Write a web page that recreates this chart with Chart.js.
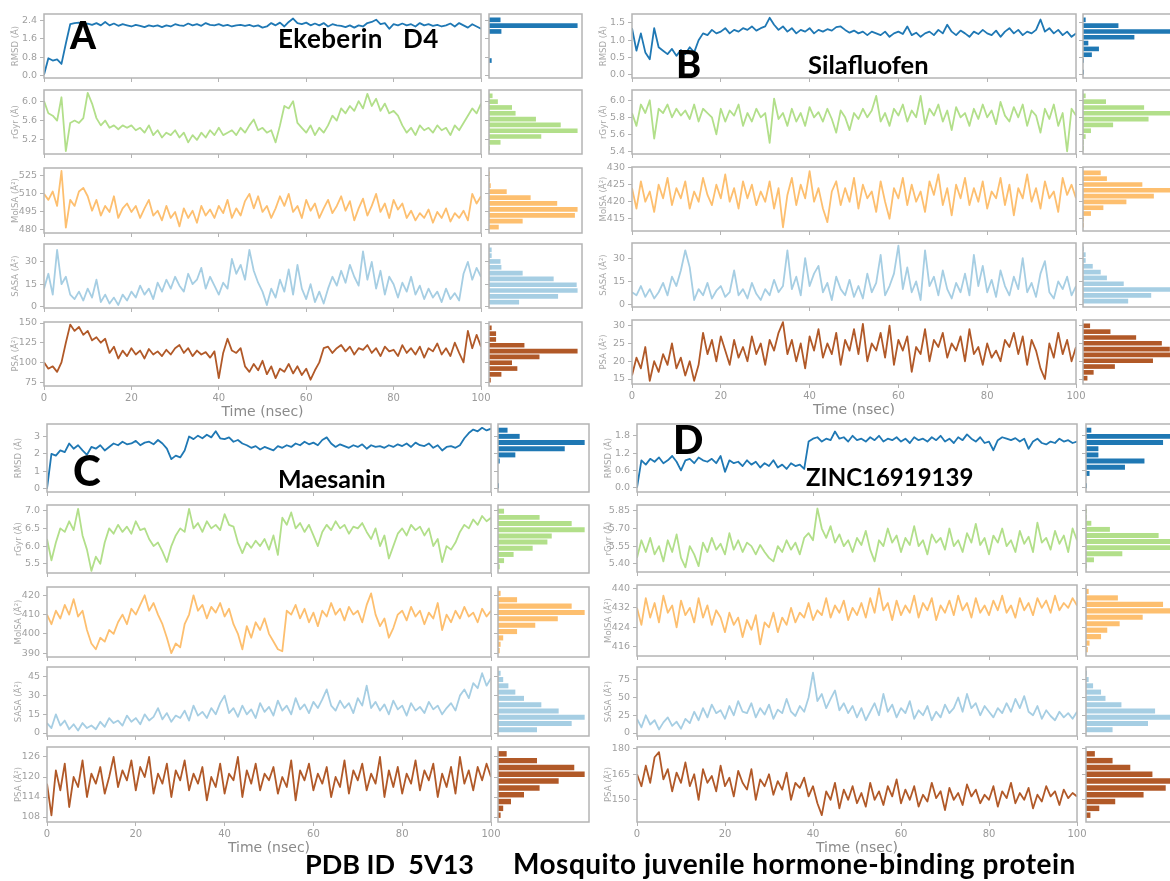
<!DOCTYPE html>
<html>
<head>
<meta charset="utf-8">
<script src="https://cdn.jsdelivr.net/npm/chart.js@4.4.1/dist/chart.umd.min.js"></script>
<style>
html, body { margin: 0; padding: 0; background: #fff; }
body { width: 1170px; height: 881px; overflow: hidden; position: relative; }
canvas { position: absolute; }
.lbl { position: absolute; font-family: 'Lato', 'Open Sans', sans-serif; font-weight: 700; color: #000; line-height: 1; white-space: pre; z-index: 5; }
.big { font-weight: 900; }
</style>
</head>
<body>
<div class="lbl big" style="left:70px;top:16px;font-size:37px">A</div>
<div class="lbl" style="left:278px;top:25px;font-size:26px;letter-spacing:0.4px">Ekeberin   D4</div>
<div class="lbl big" style="left:676px;top:44px;font-size:38px">B</div>
<div class="lbl" style="left:808px;top:52px;font-size:25.5px">Silafluofen</div>
<div class="lbl big" style="left:73px;top:449px;font-size:42px">C</div>
<div class="lbl" style="left:278px;top:466px;font-size:25px">Maesanin</div>
<div class="lbl big" style="left:673px;top:419px;font-size:40px">D</div>
<div class="lbl" style="left:806px;top:465px;font-size:24px">ZINC16919139</div>
<div class="lbl" style="left:305px;top:850px;font-size:27px">PDB ID  5V13</div>
<div class="lbl" style="left:513px;top:849px;font-size:28px;letter-spacing:0.5px">Mosquito juvenile hormone-binding protein</div>
<script>
Chart.defaults.font.family = 'DejaVu Sans';

const time = Array.from({ length: 101 }, (_, i) => i); // ns, one frame per ns

// ---------- A : Ekeberin D4 ----------
const aRmsd = [
  0.02, 0.75, 0.65, 0.7, 0.5, 1.4, 2.25, 2.3, 2.32, 2.25,
  2.28, 2.22, 2.3, 2.2, 2.35, 2.2, 2.28, 2.18, 2.25, 2.2,
  2.15, 2.22, 2.18, 2.12, 2.2, 2.15, 2.2, 2.12, 2.2, 2.15,
  2.25, 2.2, 2.18, 2.28, 2.2, 2.25, 2.18, 2.3, 2.22, 2.2,
  2.25, 2.18, 2.22, 2.15, 2.2, 2.22, 2.18, 2.22, 2.15, 2.2,
  2.1, 2.15, 2.3, 2.2, 2.32, 2.15, 2.35, 2.5, 2.3, 2.25,
  2.32, 2.2, 2.28, 2.2, 2.3, 2.15, 2.25, 2.2, 2.18, 2.12,
  2.2, 2.1, 2.2, 2.15, 2.3, 2.35, 2.45, 2.25, 2.3, 2.05,
  2.25, 2.2, 2.28, 2.2, 2.25, 2.15, 2.3, 2.2, 2.25, 2.18,
  2.22, 2.15, 2.2, 2.28, 2.15, 2.3, 2.2, 2.1, 2.25, 2.15,
  2.05];
const aRgyr = [
  6.0, 5.75, 5.7, 5.6, 6.08, 4.97, 5.55, 5.6, 5.55, 5.65,
  6.17, 5.95, 5.65, 5.5, 5.6, 5.45, 5.5, 5.42, 5.5, 5.45,
  5.5, 5.4, 5.45, 5.35, 5.5, 5.3, 5.4, 5.25, 5.35, 5.3,
  5.4, 5.25, 5.35, 5.15, 5.3, 5.2, 5.35, 5.25, 5.4, 5.3,
  5.45, 5.3, 5.35, 5.4, 5.3, 5.45, 5.35, 5.5, 5.62, 5.4,
  5.45, 5.35, 5.4, 5.15, 5.5, 5.9, 5.85, 6.0, 5.55, 5.45,
  5.35, 5.5, 5.3, 5.45, 5.35, 5.5, 5.7, 5.6, 5.85, 5.75,
  5.9, 5.8, 6.0, 5.85, 6.15, 5.9, 6.05, 5.8, 5.95, 5.75,
  5.8, 5.7, 5.5, 5.35, 5.45, 5.3, 5.5, 5.4, 5.45, 5.35,
  5.5, 5.4, 5.45, 5.3, 5.5, 5.4, 5.55, 5.7, 5.85, 5.75,
  5.95];
const aMolsa = [
  510, 505, 512, 500, 529, 482, 505, 500, 512, 515,
  508, 496, 505, 492, 500, 495, 508, 490, 498, 502,
  495, 500, 490, 498, 505, 492, 496, 488, 500, 490,
  495, 483, 498, 490, 496, 486, 500, 492, 497, 490,
  500, 494, 505, 490, 498, 492, 504, 510, 498, 508,
  495, 500, 490, 498, 508, 500, 510, 495, 500, 490,
  505, 496, 502, 490, 498, 505, 494, 500, 508, 496,
  504, 488, 498, 506, 492, 500, 510, 495, 502, 490,
  505, 497, 502, 490, 496, 488, 494, 490, 497, 486,
  495, 490, 498, 487, 494, 490, 496, 488, 510, 502,
  508];
const aSasa = [
  12, 22, 8, 38, 15, 20, 8, 5, 10, 4,
  12, 6, 18, 3, 8, 2, 6, 1, 8, 4,
  10, 6, 14, 8, 12, 5, 16, 10, 18, 12,
  20, 14, 10, 22, 15, 18, 26, 12, 20, 14,
  8, 16, 12, 32, 22, 28, 18, 38, 24, 16,
  10, 1, 12, 6, 18, 10, 25, 8, 28, 12,
  5, 15, 3, 10, 2, 12, 20, 14, 24, 16,
  28, 20, 14, 37, 18, 30, 12, 24, 8, 20,
  15, 6, 16, 10, 20, 8, 14, 5, 12, 6,
  10, 3, 12, 5, 9, 4, 22, 30, 18, 26,
  20];
const aPsa = [
  100, 92, 95, 88, 100, 125, 148, 140, 145, 135,
  140, 128, 132, 125, 130, 112, 120, 105, 115, 108,
  118, 110, 115, 105, 117, 110, 114, 108, 116, 110,
  118, 122, 112, 118, 108, 115, 110, 113, 106, 114,
  80, 112, 130, 115, 112, 118, 95, 88, 98, 90,
  102, 85, 95, 80, 92, 88, 98, 86, 95, 84,
  92, 78, 90, 100, 118, 120, 112, 118, 122, 114,
  120, 110, 118, 116, 122, 112, 118, 108, 120, 114,
  116, 108, 122, 112, 118, 110, 120, 106, 118, 114,
  124, 110, 118, 108, 125, 112, 100, 140, 118, 135,
  120];
const aRmsdHist = [0, 0, 3, 0, 0, 0, 0, 14, 100, 13];
const aRgyrHist = [1, 13, 59, 100, 81, 53, 30, 26, 10, 4];
const aMolsaHist = [11, 38, 97, 100, 77, 47, 20, 2, 1, 1];
const aSasaHist = [34, 78, 100, 99, 73, 38, 14, 13, 3, 3];
const aPsaHist = [2, 14, 32, 26, 57, 100, 40, 8, 8, 3];
const aRanges = [[-0.12, 2.70], [4.91, 6.23], [477.5, 531.5], [-1, 42], [70, 151.3]];
const aTicks = [['0.0', '0.8', '1.6', '2.4'], ['5.2', '5.6', '6.0'], ['480', '495', '510', '525'], ['0', '15', '30'], ['75', '100', '125', '150']];

// ---------- B : Silafluofen ----------
const bRmsd = [
  1.35, 0.7, 1.2, 0.65, 0.45, 1.35, 0.8, 0.7, 0.6, 0.75,
  0.55, 0.72, 0.6, 0.8, 0.65, 1.0, 1.2, 1.15, 1.3, 1.2,
  1.25, 1.35, 1.2, 1.3, 1.25, 1.35, 1.3, 1.4, 1.28, 1.35,
  1.4, 1.65, 1.45, 1.3, 1.4, 1.25, 1.35, 1.2, 1.3, 1.25,
  1.35, 1.2, 1.3, 1.25, 1.32, 1.28, 1.38, 1.4, 1.3, 1.22,
  1.28, 1.2, 1.25, 1.15, 1.25, 1.2, 1.15, 1.25, 1.1, 1.2,
  1.25, 1.18, 1.4, 1.15, 1.22, 1.1, 1.2, 1.25, 1.15, 1.3,
  1.2, 1.45, 1.25, 1.15, 1.28, 1.2, 1.1, 1.25, 1.18, 1.3,
  1.2, 1.15, 1.28, 1.1, 1.25, 1.35, 1.2, 1.3, 1.15, 1.25,
  1.2, 1.3, 1.6, 1.25, 1.35, 1.2, 1.3, 1.15, 1.25, 1.1,
  1.2];
const bRgyr = [
  5.85, 5.7, 5.95, 5.85, 6.0, 5.55, 5.9, 5.85, 5.95, 5.8,
  5.9, 5.82, 5.88, 5.78, 5.95, 5.75, 5.9, 5.85, 5.8, 5.6,
  5.9, 5.75, 5.88, 5.82, 5.95, 5.7, 5.85, 5.75, 5.9, 5.8,
  5.85, 5.5, 6.02, 5.78, 5.85, 5.7, 5.9, 5.75, 5.85, 5.7,
  5.92, 5.8, 5.86, 5.75, 5.9, 5.78, 5.62, 5.88, 5.8, 5.65,
  5.85, 5.78, 5.9, 5.8, 5.88, 6.05, 5.75, 5.85, 5.7, 5.9,
  5.82, 5.95, 5.75, 5.88, 5.8, 6.05, 5.72, 5.9, 5.82, 5.95,
  5.75, 5.88, 5.65, 5.92, 5.8, 5.85, 5.7, 5.9, 5.78, 5.95,
  5.8, 5.88, 5.72, 5.98, 5.82, 5.75, 5.92, 5.8, 5.95, 5.7,
  5.88, 5.82, 5.62, 5.9, 5.78, 5.95, 5.7, 5.85, 5.4, 5.9,
  5.82];
const bMolsa = [
  424, 418, 426, 420, 423, 417, 425, 421, 427, 419,
  424, 421, 426, 418, 423, 420, 427, 422, 419, 425,
  421, 428, 420, 424, 418, 426, 421, 425, 419, 423,
  420, 426, 418, 424, 412.5, 422, 427, 419, 425, 421,
  429, 420, 424, 418, 414, 423, 426, 419, 424, 420,
  427, 418, 425, 421, 423, 417, 426, 420, 415, 424,
  421, 427, 419, 425, 420, 423, 417, 426, 422, 428,
  419, 424, 416, 425, 421, 427, 419, 424, 420, 426,
  418, 423, 421, 427, 419, 425, 416, 424, 421, 428,
  420, 424, 418, 426, 421, 423, 417, 427, 422, 425,
  421];
const bSasa = [
  8, 6, 12, 5, 10, 4, 8, 14, 6, 18,
  12, 22, 35, 24, 3, 10, 6, 14, 4, 9,
  12, 5, 8, 22, 6, 10, 4, 14, 7, 3,
  10, 6, 16, 8, 12, 35, 10, 18, 6, 30,
  12, 20, 25, 8, 14, 3, 18, 10, 6, 16,
  5, 12, 4, 20, 8, 14, 32, 6, 12, 20,
  38, 10, 24, 8, 15, 3, 35, 12, 18, 6,
  22, 10, 4, 14, 8, 20, 6, 32, 12, 25,
  8, 16, 5, 22, 12, 6, 18, 10, 30, 8,
  14, 5, 20, 28, 8, 4, 15, 10, 18, 6,
  12];
const bPsa = [
  16, 21, 18, 24, 14.5, 20, 17, 22, 19, 25,
  18, 21, 16, 20, 14.5, 19, 28, 22, 26, 20,
  27, 23, 19, 26, 21, 24, 20, 27, 22, 25,
  19, 26, 23, 28, 31, 22, 26, 20, 25, 18,
  27, 23, 29, 21, 25, 22, 28, 19, 26, 23,
  29, 22, 30.5, 20, 25, 23, 28, 21, 30, 19,
  26, 23, 27, 17, 24, 22, 29, 20, 26, 24,
  28, 21, 25, 23, 27, 20, 29, 22, 24, 19,
  25, 21, 23, 20, 26, 24, 28, 22, 27, 19,
  26, 23, 18, 15, 25, 21, 28, 22, 26, 20,
  24];
const bRmsdHist = [1, 0, 1, 10, 18, 6, 58, 100, 40, 3];
const bRgyrHist = [1, 1, 3, 9, 34, 74, 100, 69, 26, 3];
const bMolsaHist = [1, 1, 9, 23, 49, 80, 100, 67, 27, 20];
const bSasaHist = [51, 77, 100, 46, 27, 20, 11, 3, 3, 1];
const bPsaHist = [5, 12, 36, 79, 100, 98, 89, 60, 31, 8];
const bRanges = [[-0.09, 1.76], [5.37, 6.12], [411.4, 430.2], [-1.5, 39.7], [13.6, 31.6]];
const bTicks = [['0.0', '0.5', '1.0', '1.5'], ['5.4', '5.6', '5.8', '6.0'], ['415', '420', '425', '430'], ['0', '15', '30'], ['15', '20', '25', '30']];

// ---------- C : Maesanin ----------
const cRmsd = [
  0.0, 2.0, 1.9, 2.2, 2.1, 2.6, 2.3, 2.5, 2.2, 1.95,
  2.4, 2.3, 2.5, 2.2, 2.4, 2.6, 2.5, 2.7, 2.55, 2.6,
  2.75, 2.5, 2.65, 2.7, 2.55, 2.8, 2.6, 2.3, 1.7, 1.9,
  1.8, 2.2, 3.0, 2.85, 3.05, 2.9, 3.1, 2.95, 3.3, 2.9,
  2.85, 2.95, 2.7, 2.8, 2.6, 2.5, 2.35, 2.45, 2.25, 2.4,
  2.3, 2.2, 2.45, 2.35, 2.5, 2.4, 2.6, 2.5, 2.7, 2.55,
  2.65, 2.5, 2.8, 2.95, 2.6, 2.4, 2.55, 2.45, 2.35, 2.5,
  2.4, 2.55, 2.3, 2.5, 2.4, 2.45, 2.35, 2.5, 2.4, 2.55,
  2.45, 2.6, 2.4, 2.65, 2.5, 2.45, 2.6, 2.35, 2.5, 2.2,
  2.4, 2.45, 2.35, 2.5, 2.9, 3.2, 3.4, 3.3, 3.5, 3.35,
  3.45];
const cRgyr = [
  6.2, 5.6, 6.1, 6.5, 6.4, 6.7, 6.45, 7.05, 6.3, 5.9,
  5.3, 5.7, 5.5, 6.1, 6.5, 6.35, 6.6, 6.4, 6.55, 6.35,
  6.7, 6.45, 6.5, 6.2, 6.0, 6.1, 5.85, 5.55, 6.0, 6.3,
  6.5, 6.4, 7.05, 6.5, 6.65, 6.4, 6.7, 6.5, 6.6, 6.45,
  6.9, 6.6, 6.55, 6.1, 5.8, 6.1, 5.95, 6.15, 6.0, 6.2,
  5.9, 6.3, 5.75, 6.8, 6.6, 6.95, 6.5, 6.65, 6.4, 6.6,
  6.3, 6.0, 6.4, 6.6, 6.45, 6.7, 6.5, 6.6, 6.35, 6.55,
  6.5, 6.65, 6.4, 6.2, 6.5, 6.0, 6.3, 5.65, 6.0, 6.35,
  6.5, 6.3, 6.6, 6.45, 6.55, 6.3, 6.5, 6.0, 6.2, 5.55,
  6.0, 5.9, 6.1, 6.4, 6.6, 6.5, 6.75, 6.6, 6.85, 6.7,
  6.8];
const cMolsa = [
  410, 405, 412, 408, 415, 410, 418, 409, 412, 402,
  395, 392, 398, 396, 402, 400, 406, 410, 405, 413,
  410, 415, 420, 412, 416, 410, 405, 398, 390, 395,
  393, 405, 410, 420, 412, 415, 408, 414, 411, 416,
  409, 413, 405, 400, 392, 404, 398, 406, 402, 408,
  400, 396, 392, 391, 412, 410, 415, 408, 413, 406,
  411, 404, 412, 409, 416, 410, 413, 407, 414, 410,
  412, 406, 415, 421, 410, 404, 408, 398, 403, 410,
  412, 407, 414, 409, 412, 405, 411, 408, 416, 402,
  410, 406, 412, 408, 414, 409, 411, 406, 413, 409,
  412];
const cSasa = [
  8, 4, 15, 6, 10, 3, 7, 2, 8, 4,
  6, 3, 9, 5, 12, 8, 10, 6, 14, 9,
  12, 7, 15, 10, 13, 20, 11, 16, 9, 14,
  12, 18, 10, 22, 14, 17, 12, 20, 15, 24,
  30, 16, 20, 13, 22, 15, 19, 12, 24, 17,
  21, 14, 26, 18, 22, 15, 28, 19, 23, 16,
  25, 20, 27, 35, 22, 18, 26, 20, 24, 16,
  28, 22, 38, 20, 25, 18, 23, 15, 26, 19,
  22, 14, 24, 18, 21, 16, 25, 19, 22, 15,
  20, 24, 18, 30, 35, 28, 40, 36, 48, 38,
  44];
const cPsa = [
  118, 108.5, 122, 116, 124, 111, 120, 117, 125, 114,
  121, 118, 123, 115, 120, 126, 117, 122, 119, 125,
  116, 123, 120, 126, 115, 121, 118, 124, 114, 122,
  119, 125, 116, 121, 118, 123, 113, 120, 117, 124,
  115, 121, 119, 126, 114, 122, 118, 124, 116, 121,
  119, 123, 115, 120, 117, 125, 113, 122, 119, 124,
  116, 121, 118, 123, 114, 120, 117, 125, 115, 122,
  119, 124, 116, 121, 118, 126, 114, 122, 117, 123,
  115, 121, 118, 125, 116, 122, 119, 124, 114, 121,
  117, 123, 115, 126, 118, 122, 116, 123, 119, 124,
  120];
const cRmsdHist = [1, 0, 0, 0, 2, 20, 77, 100, 25, 11];
const cRgyrHist = [2, 7, 18, 40, 57, 62, 100, 85, 48, 7];
const cMolsaHist = [2, 3, 6, 22, 43, 69, 100, 85, 22, 3];
const cSasaHist = [45, 85, 100, 70, 50, 30, 20, 12, 6, 3];
const cPsaHist = [3, 6, 15, 30, 48, 70, 100, 88, 45, 10];
const cRanges = [[-0.19, 3.72], [5.24, 7.16], [388, 424.3], [-2.4, 53], [106.5, 129]];
const cTicks = [['0', '1', '2', '3'], ['5.5', '6.0', '6.5', '7.0'], ['390', '400', '410', '420'], ['0', '15', '30', '45'], ['108', '114', '120', '126']];

// ---------- D : ZINC16919139 ----------
const dRmsd = [
  0.0, 0.95, 0.8, 1.0, 0.9, 1.05, 0.85, 0.95, 1.1, 0.9,
  0.6, 0.95, 1.0, 0.85, 1.05, 0.95, 0.9, 1.0, 0.85, 1.1,
  0.55, 0.95, 0.85, 0.9, 0.75, 0.95, 0.8, 0.9, 0.7, 0.85,
  0.75, 0.95, 0.7, 0.8, 0.65, 0.85, 0.75, 0.8, 0.65, 1.6,
  1.7, 1.75, 1.6, 1.7, 1.65, 1.95, 1.7, 1.75, 1.6, 1.8,
  1.65, 1.7, 1.6, 1.75, 1.65, 1.8, 1.6, 1.7, 1.65, 1.75,
  1.6, 1.7, 1.55, 1.75, 1.65, 1.7, 1.6, 1.75, 1.65, 1.8,
  1.6, 1.7, 1.55, 1.75, 1.65, 1.85, 1.7, 1.6, 1.75, 1.55,
  1.6, 1.3, 1.65, 1.75, 1.7, 1.65, 1.72, 1.6, 1.7, 1.35,
  1.6, 1.7, 1.55, 1.5, 1.6, 1.55, 1.7, 1.6, 1.65, 1.55,
  1.6];
const dRgyr = [
  5.45, 5.6, 5.5, 5.62, 5.48, 5.55, 5.42, 5.6, 5.5, 5.65,
  5.45, 5.37, 5.55, 5.48, 5.38, 5.58, 5.5, 5.62, 5.52, 5.57,
  5.48, 5.66, 5.52, 5.6, 5.5, 5.58, 5.55, 5.48, 5.56, 5.5,
  5.45, 5.42, 5.55, 5.5, 5.6, 5.52, 5.58, 5.48, 5.62, 5.66,
  5.6, 5.87, 5.7, 5.62, 5.72, 5.58, 5.65, 5.55, 5.6, 5.5,
  5.62, 5.56, 5.68, 5.52, 5.42, 5.6, 5.55, 5.7, 5.58, 5.64,
  5.5, 5.62, 5.56, 5.72, 5.55, 5.6, 5.48, 5.65, 5.58, 5.62,
  5.52, 5.7, 5.55, 5.6, 5.5, 5.66, 5.58, 5.74, 5.56, 5.62,
  5.48, 5.64, 5.58, 5.7, 5.55, 5.6, 5.5, 5.68, 5.57, 5.63,
  5.5, 5.75, 5.58, 5.62, 5.52, 5.68, 5.57, 5.64, 5.5, 5.7,
  5.6];
const dMolsa = [
  432, 425, 436, 428, 434, 426, 437, 430, 433, 424,
  435, 429, 432, 426, 436, 428, 433, 425, 431, 428,
  422, 430, 425, 428, 420, 427, 423, 429, 417, 426,
  424, 430, 422, 428, 425, 432, 426, 430, 428, 434,
  427, 431, 429, 436, 428, 433, 430, 435, 427, 432,
  429, 434, 428, 436, 430, 440, 431, 434, 427, 435,
  429, 433, 430, 437, 428, 434, 431, 436, 427, 433,
  430, 435, 429, 437, 431, 434, 428, 436, 430, 433,
  429, 435, 431, 437, 430, 433, 428, 436, 431, 434,
  429, 436, 432, 435, 430, 437, 431, 434, 432, 436,
  433];
const dSasa = [
  20, 8, 25, 12, 18, 5, 15, 22, 10, 16,
  6, 20, 14, 30, 18, 35, 22, 40, 28, 32,
  20, 38, 25, 45, 30, 28, 42, 22, 35, 26,
  40, 20, 33, 28, 48, 30, 24, 38, 30, 50,
  85, 45, 55, 35, 48, 60, 32, 42, 28, 38,
  22, 35, 18, 30, 42, 25, 55, 30, 40, 22,
  35, 28, 45, 20, 32, 25, 38, 18, 30, 22,
  40, 28, 35, 50, 30, 55, 35, 42, 25, 38,
  30, 22, 35, 28, 42, 30, 48, 35, 52, 30,
  25, 38, 20, 32, 24, 18, 30, 22, 28, 20,
  30];
const dPsa = [
  165, 158, 170, 160, 175, 178, 162, 168, 155, 166,
  160, 172, 158, 165, 150, 168, 160, 164, 155, 170,
  158, 163, 152, 167, 160, 156, 168, 150, 162, 158,
  165, 153, 161, 156, 166, 150, 160, 157, 163, 152,
  158, 148, 141, 155, 150, 160, 145, 156, 150, 158,
  148, 154, 146, 160, 150, 155, 147, 158, 152, 162,
  148, 156, 150, 158, 146, 153, 149, 160, 151, 155,
  144, 157, 150, 154, 147, 159, 152, 156, 148, 153,
  150, 158, 146, 155, 151, 160, 148, 154, 150, 157,
  145, 153, 149, 158, 152, 155, 147, 156, 151, 154,
  152];
const dRmsdHist = [1, 0, 4, 44, 66, 14, 14, 87, 100, 6];
const dRgyrHist = [1, 9, 41, 95, 100, 82, 27, 6, 1, 1];
const dMolsaHist = [2, 4, 17, 24, 38, 64, 100, 87, 36, 3];
const dSasaHist = [30, 70, 100, 78, 40, 22, 17, 8, 3, 1];
const dPsaHist = [5, 15, 33, 65, 90, 100, 75, 50, 30, 10];
const dRanges = [[-0.15, 2.21], [5.33, 5.90], [412.2, 441.4], [-4.2, 93], [137, 181]];
const dTicks = [['0.0', '0.6', '1.2', '1.8'], ['5.40', '5.55', '5.70', '5.85'], ['416', '424', '432', '440'], ['0', '25', '50', '75'], ['150', '165', '180']];

const yTitles = ['RMSD (Å)', 'rGyr (Å)', 'MolSA (Å²)', 'SASA (Å²)', 'PSA (Å²)'];
const colors = ['#1f78b4', '#b2df8a', '#fdbf6f', '#a6cee3', '#b15928'];
const xTicks = [0, 20, 40, 60, 80, 100];

// layout of the four panels (pixel boxes of the plot areas)
const panels = [
  { series: [aRmsd, aRgyr, aMolsa, aSasa, aPsa], hists: [aRmsdHist, aRgyrHist, aMolsaHist, aSasaHist, aPsaHist],
    ranges: aRanges, ticks: aTicks, x0: 44, x1: 481, hx0: 489, hx1: 582,
    tops: [13.5, 90, 167.5, 244, 321.5], bottoms: [77, 154, 232, 307.5, 385] },
  { series: [bRmsd, bRgyr, bMolsa, bSasa, bPsa], hists: [bRmsdHist, bRgyrHist, bMolsaHist, bSasaHist, bPsaHist],
    ranges: bRanges, ticks: bTicks, x0: 632, x1: 1076, hx0: 1083, hx1: 1176,
    tops: [13.5, 90, 166.5, 242.5, 320], bottoms: [77, 154, 230.5, 306.5, 383.5] },
  { series: [cRmsd, cRgyr, cMolsa, cSasa, cPsa], hists: [cRmsdHist, cRgyrHist, cMolsaHist, cSasaHist, cPsaHist],
    ranges: cRanges, ticks: cTicks, x0: 47, x1: 491, hx0: 498, hx1: 589,
    tops: [423.5, 504.5, 586.5, 667, 747], bottoms: [491, 572, 656, 736, 822] },
  { series: [dRmsd, dRgyr, dMolsa, dSasa, dPsa], hists: [dRmsdHist, dRgyrHist, dMolsaHist, dSasaHist, dPsaHist],
    ranges: dRanges, ticks: dTicks, x0: 637, x1: 1077, hx0: 1086, hx1: 1179,
    tops: [423.5, 504.5, 585, 667, 747], bottoms: [491, 571, 656, 736, 822] }
];

const AX_W = 34;   // room for y tick labels + title
const PAD = 5;
const frameColor = '#b4b4b4';

const frame = {
  id: 'frame',
  afterDraw(chart) {
    const a = chart.chartArea, ctx = chart.ctx;
    ctx.save();
    ctx.strokeStyle = frameColor;
    ctx.lineWidth = 1.5;
    ctx.strokeRect(a.left, a.top, a.right - a.left, a.bottom - a.top);
    ctx.restore();
  }
};

function addCanvas(left, top, w, h) {
  const c = document.createElement('canvas');
  c.width = Math.round(w);
  c.height = Math.round(h);
  c.style.left = left + 'px';
  c.style.top = top + 'px';
  document.body.appendChild(c);
  return c;
}

function yScale(range, labels, extra) {
  return Object.assign({
    type: 'linear', min: range[0], max: range[1], offset: false,
    afterBuildTicks: s => { s.ticks = labels.map(l => ({ value: Number(l) })); },
    grid: { offset: false, drawOnChartArea: false, drawTicks: true, tickLength: 4, color: frameColor },
    border: { display: false }
  }, extra);
}

function seriesChart(p, r) {
  const isLast = r === 4;
  const top = p.tops[r], bottom = p.bottoms[r];
  const xh = isLast ? 35 : 5;
  const labels = p.ticks[r];
  const canvas = addCanvas(p.x0 - AX_W, top - PAD, p.x1 - p.x0 + AX_W + 14, bottom - top + PAD + xh);
  new Chart(canvas, {
    type: 'line',
    data: {
      datasets: [{
        data: p.series[r].map((v, i) => ({ x: time[i], y: v })),
        borderColor: colors[r], borderWidth: 1.8, borderJoinStyle: 'round',
        pointRadius: 0, tension: 0
      }]
    },
    options: {
      responsive: false, animation: false, events: [],
      layout: { padding: { top: PAD, right: 14, bottom: 0, left: 0 } },
      plugins: { legend: { display: false }, tooltip: { enabled: false } },
      scales: {
        x: {
          type: 'linear', min: 0, max: 100,
          afterBuildTicks: s => { s.ticks = xTicks.map(v => ({ value: v })); },
          afterFit: s => { s.height = xh; s.paddingLeft = 0; s.paddingRight = 0; },
          grid: { drawOnChartArea: false, drawTicks: true, tickLength: 4, color: frameColor },
          border: { display: false },
          ticks: { display: isLast, autoSkip: false, maxRotation: 0, color: '#9a9a9a', font: { size: 10 }, padding: 2 },
          title: { display: isLast, text: 'Time (nsec)', color: '#8a8a8a', font: { size: 14 }, padding: 0 }
        },
        y: yScale(p.ranges[r], labels, {
          afterFit: s => { s.width = AX_W; s.paddingTop = 0; s.paddingBottom = 0; },
          ticks: {
            autoSkip: false, color: '#a0a0a0', font: { size: 9.5 }, padding: 3,
            callback: v => labels.find(l => Math.abs(Number(l) - v) < 1e-9) ?? ''
          },
          title: { display: true, text: yTitles[r], color: '#a8a8a8', font: { size: 8.5 }, padding: 1 }
        })
      }
    },
    plugins: [frame]
  });
}

function histChart(p, r) {
  const top = p.tops[r], bottom = p.bottoms[r];
  const range = p.ranges[r];
  const counts = p.hists[r];
  const span = (range[1] - range[0]) / 1.1;   // data span inside the 5% axis margins
  const dataMin = range[0] + 0.05 * span;
  const binW = span / counts.length;
  const canvas = addCanvas(p.hx0 - 6, top - PAD, p.hx1 - p.hx0 + 10, bottom - top + 2 * PAD);
  new Chart(canvas, {
    type: 'bar',
    data: {
      datasets: [{
        data: counts.map((c, k) => ({ x: c, y: dataMin + (k + 0.5) * binW })),
        backgroundColor: colors[r], borderWidth: 0,
        barPercentage: 0.8, categoryPercentage: 1
      }]
    },
    options: {
      indexAxis: 'y', responsive: false, animation: false, events: [],
      layout: { padding: { top: PAD, right: 4, bottom: PAD, left: 0 } },
      plugins: { legend: { display: false }, tooltip: { enabled: false } },
      scales: {
        x: { type: 'linear', min: 0, max: 105, display: false },
        y: yScale(range, p.ticks[r], {
          afterFit: s => { s.width = 6; s.paddingTop = 0; s.paddingBottom = 0; },
          ticks: { display: false }
        })
      }
    },
    plugins: [frame]
  });
}

panels.forEach(p => {
  for (let r = 0; r < 5; r++) {
    seriesChart(p, r);
    histChart(p, r);
  }
});
</script>
</body>
</html>
